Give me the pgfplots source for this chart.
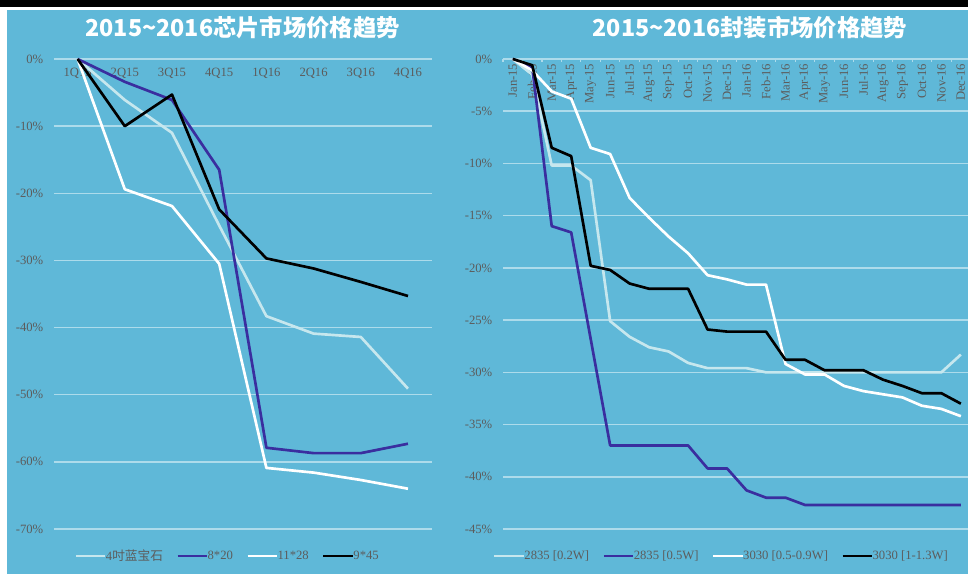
\documentclass[border=0pt]{standalone}
\usepackage{pgfplots}
\pgfplotsset{compat=1.18}
\usepackage{fontspec}
\setmainfont{Liberation Serif}
\newfontfamily\cjk{Noto Sans CJK SC}
\definecolor{bg}{HTML}{5FB8D8}
\definecolor{gridc}{HTML}{ADDBEB}
\definecolor{lightc}{HTML}{C6E7EE}
\definecolor{bluec}{HTML}{3A2E9F}
\definecolor{txt}{HTML}{5C5C5C}
\pgfplotsset{
  common/.style={
    scale only axis, clip=false,
    axis line style={draw=none},
    ymajorgrids, grid style={gridc, line width=1.1pt},
    major tick length=0pt,
    tick label style={font=\fontsize{9.5}{10}\selectfont, text=txt},
    /pgf/number format/assume math mode=true,
    yticklabel={\pgfmathprintnumber{\tick}\%},
    yticklabel style={xshift=-4.5pt},
    xticklabel pos=upper,
    legend columns=4,
    legend style={draw=none, fill=none, font=\fontsize{9.5}{10}\selectfont, text=txt,
      /tikz/every odd column/.append style={column sep=-2.5pt},
      /tikz/every even column/.append style={column sep=8pt}},
    legend image code/.code={\draw[##1] (0pt,0pt) -- (22pt,0pt);},
    every axis plot/.append style={line width=2pt, line join=round},
  }
}
\begin{document}
\begin{tikzpicture}
\useasboundingbox (0,0) rectangle (726pt,-430.5pt);
\clip (0,0) rectangle (726pt,-430.5pt);
\fill[bg] (0,0) rectangle (726pt,-430.5pt);
\fill[white] (0,0) rectangle (726pt,-7.5pt);
\fill[white] (0,0) rectangle (5.25pt,-430.5pt);
\fill[black] (0,0) rectangle (726pt,-5.5pt);

\node[font=\cjk\bfseries\fontsize{17.5}{18}\selectfont, text=white] at (182pt,-21pt) {2015\textasciitilde2016芯片市场价格趋势};
\node[font=\cjk\bfseries\fontsize{17.5}{18}\selectfont, text=white] at (562.5pt,-21pt) {2015\textasciitilde2016封装市场价格趋势};

\begin{axis}[common,
  at={(40.5pt,-396.75pt)}, anchor=south west,
  width=283.2pt, height=352.5pt,
  xmin=-0.5, xmax=7.5, ymin=-70, ymax=0,
  ytick={-70,-60,...,0},
  xtick={0,...,7},
  xticklabels={1Q15,2Q15,3Q15,4Q15,1Q16,2Q16,3Q16,4Q16},
  xticklabel style={anchor=center, yshift=-10.5pt},
  legend style={at={(0.461,-0.0574)}, anchor=center},
]
\addplot[lightc] coordinates {(0,0) (1,-6.1) (2,-11) (3,-24.8) (4,-38.3) (5,-40.9) (6,-41.4) (7,-49.1)};
\addlegendentry{4{\cjk 吋蓝宝石}}
\addplot[bluec] coordinates {(0,0) (1,-3.4) (2,-6.1) (3,-16.5) (4,-57.9) (5,-58.7) (6,-58.7) (7,-57.3)};
\addlegendentry{8*20}
\addplot[white] coordinates {(0,0) (1,-19.4) (2,-21.9) (3,-30.5) (4,-60.9) (5,-61.6) (6,-62.7) (7,-64)};
\addlegendentry{11*28}
\addplot[black] coordinates {(0,0) (1,-10) (2,-5.3) (3,-22.4) (4,-29.7) (5,-31.2) (6,-33.2) (7,-35.3)};
\addlegendentry{9*45}
\end{axis}

\begin{axis}[common,
  at={(377.25pt,-396.75pt)}, anchor=south west,
  width=350.7pt, height=352.5pt,
  xmin=-0.5, xmax=23.5, ymin=-45, ymax=0,
  ytick={-45,-40,...,0},
  xtick={0,...,23},
  xticklabels={Jan-15,Feb-15,Mar-15,Apr-15,May-15,Jun-15,Jul-15,Aug-15,Sep-15,Oct-15,Nov-15,Dec-15,Jan-16,Feb-16,Mar-16,Apr-16,May-16,Jun-16,Jul-16,Aug-16,Sep-16,Oct-16,Nov-16,Dec-16},
  xticklabel style={rotate=90, anchor=east},
  minor xtick={-0.5,0.5,...,23.5},
  minor tick length=2.5pt,
  xtick pos=upper,
  tick align=inside,
  minor tick style={gridc, line width=0.8pt},
  legend style={at={(0.468,-0.0574)}, anchor=center},
]
\addplot[lightc] coordinates {(0,0) (1,-1.5) (2,-10.2) (3,-10.2) (4,-11.6) (5,-25.1) (6,-26.6) (7,-27.6) (8,-28) (9,-29.1) (10,-29.6) (11,-29.6) (12,-29.6) (13,-30) (14,-30) (15,-30) (16,-30) (17,-30) (18,-30) (19,-30) (20,-30) (21,-30) (22,-30) (23,-28.3)};
\addlegendentry{2835 [0.2W]}
\addplot[bluec] coordinates {(0,0) (1,-0.8) (2,-16) (3,-16.6) (4,-26.8) (5,-37) (6,-37) (7,-37) (8,-37) (9,-37) (10,-39.2) (11,-39.2) (12,-41.3) (13,-42) (14,-42) (15,-42.7) (16,-42.7) (17,-42.7) (18,-42.7) (19,-42.7) (20,-42.7) (21,-42.7) (22,-42.7) (23,-42.7)};
\addlegendentry{2835 [0.5W]}
\addplot[white] coordinates {(0,0) (1,-1.1) (2,-3.1) (3,-3.8) (4,-8.5) (5,-9.1) (6,-13.3) (7,-15.2) (8,-17) (9,-18.6) (10,-20.7) (11,-21.1) (12,-21.6) (13,-21.6) (14,-29.2) (15,-30.2) (16,-30.2) (17,-31.3) (18,-31.8) (19,-32.1) (20,-32.4) (21,-33.2) (22,-33.5) (23,-34.2)};
\addlegendentry{3030 [0.5-0.9W]}
\addplot[black] coordinates {(0,0) (1,-0.6) (2,-8.5) (3,-9.3) (4,-19.8) (5,-20.2) (6,-21.5) (7,-22) (8,-22) (9,-22) (10,-25.9) (11,-26.1) (12,-26.1) (13,-26.1) (14,-28.8) (15,-28.8) (16,-29.8) (17,-29.8) (18,-29.8) (19,-30.7) (20,-31.3) (21,-32) (22,-32) (23,-33)};
\addlegendentry{3030 [1-1.3W]}
\end{axis}
\end{tikzpicture}
\end{document}
